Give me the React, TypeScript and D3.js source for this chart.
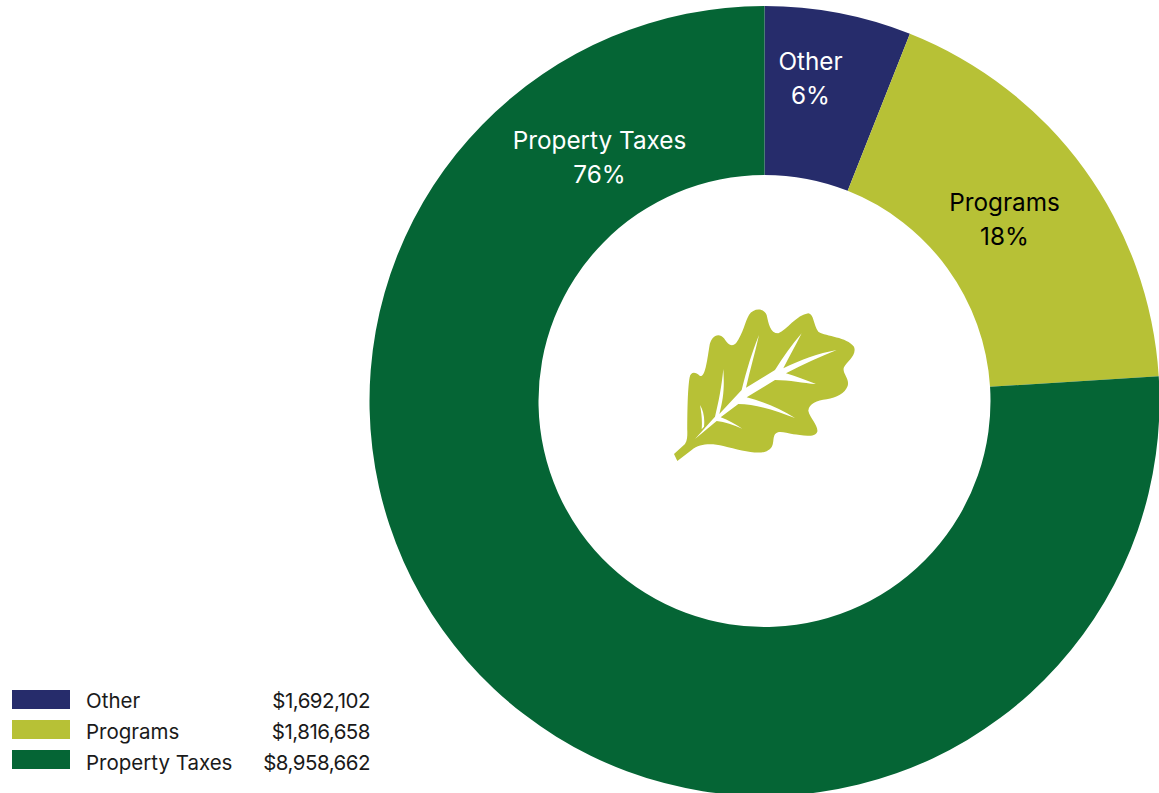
import React from "react";
import * as d3 from "d3";

// Revenue sources, in the order they run clockwise from twelve o'clock.
const categories = ["Other", "Programs", "Property Taxes"];
const sharePercent = [6, 18, 76];
const dollarLabels = ["$1,692,102", "$1,816,658", "$8,958,662"];
const sliceColors = ["#262c6b", "#b7c136", "#056535"];
const labelColors = ["#ffffff", "#000000", "#ffffff"];

// Centre of each two-line slice label, relative to the ring's centre.
const labelOffsetX = [46, 240, -165];
const labelOffsetY = [-323, -182, -244];

const WIDTH = 1159;
const HEIGHT = 793;
const CENTER_X = 764.5;
const CENTER_Y = 401;
const OUTER_RADIUS = 395;
const INNER_RADIUS = 226;
const FONT = "Inter, 'Noto Sans', sans-serif";

// Oak leaf emblem, drawn in a 690 x 570 local space.
const LEAF_OUTLINE =
  "M72,492 L105,462 C112,450 112,440 112,425 C112,390 112,300 119,262 C122,246 135,244 150,258 C165,262 170,220 178,170 C182,140 205,125 222,145 C235,165 245,172 258,160 C280,130 285,95 297,75 C310,55 340,52 350,75 C356,100 360,130 385,130 C410,120 440,75 475,70 C492,72 490,105 505,125 C530,140 590,140 612,170 C622,195 590,215 582,232 C575,250 600,265 593,288 C585,310 560,322 530,328 C500,332 478,340 475,362 C480,385 505,405 502,425 C495,445 450,435 430,433 C405,428 385,420 375,433 C365,450 378,470 350,484 C320,495 270,480 220,468 C185,460 150,460 125,480 L82,513 Z";
const LEAF_VEINS =
  "M135,447 L195,380 C205,340 215,290 220,237 C223,290 222,320 208,372 L275,300 C290,240 305,190 327,135 C315,190 300,240 288,293 L375,240 C400,200 425,165 455,130 C435,170 415,205 400,235 C450,210 505,190 560,180 C510,200 460,222 408,250 C440,260 470,272 498,282 C460,280 420,270 375,270 L290,322 C340,335 390,355 435,384 C385,365 320,342 265,342 L212,382 C235,390 255,402 277,416 C250,405 225,395 200,393 Z M150,345 C160,360 165,385 162,410 L155,418 C157,395 155,370 150,345 Z";

export default function App() {
  const pie = d3.pie<number>().sort(null).value((d) => d);
  const arc = d3
    .arc<d3.PieArcDatum<number>>()
    .innerRadius(INNER_RADIUS)
    .outerRadius(OUTER_RADIUS);
  const slices = pie(sharePercent);

  return (
    <svg
      width={WIDTH}
      height={HEIGHT}
      viewBox={`0 0 ${WIDTH} ${HEIGHT}`}
      style={{ position: "absolute", left: 0, top: 0, background: "#ffffff" }}
      fontFamily={FONT}
    >
      <g transform={`translate(${CENTER_X},${CENTER_Y})`}>
        {slices.map((s, i) => (
          <path key={categories[i]} d={arc(s) ?? ""} fill={sliceColors[i]} />
        ))}
        {slices.map((s, i) => (
          <text
            key={categories[i]}
            x={labelOffsetX[i]}
            y={labelOffsetY[i]}
            textAnchor="middle"
            fontSize={24.3}
            fill={labelColors[i]}
          >
            <tspan x={labelOffsetX[i]} dy={-8}>{categories[i]}</tspan>
            <tspan x={labelOffsetX[i]} dy={34}>{`${s.data}%`}</tspan>
          </text>
        ))}
      </g>

      <g transform="translate(650,290) scale(0.3333)">
        <path d={LEAF_OUTLINE} fill="#b7c136" />
        <path d={LEAF_VEINS} fill="#ffffff" />
      </g>

      {categories.map((name, i) => (
        <g key={name} transform={`translate(0,${690 + i * 30})`}>
          <rect x={12} y={0} width={58} height={19} fill={sliceColors[i]} />
          <text x={86} y={17.5 + i} fontSize={20.5} fill="#1a1a1a">{name}</text>
          <text
            x={370}
            y={17.5 + i}
            fontSize={20.5}
            fill="#1a1a1a"
            textAnchor="end"
            letterSpacing={-0.5}
          >
            {dollarLabels[i]}
          </text>
        </g>
      ))}
    </svg>
  );
}
